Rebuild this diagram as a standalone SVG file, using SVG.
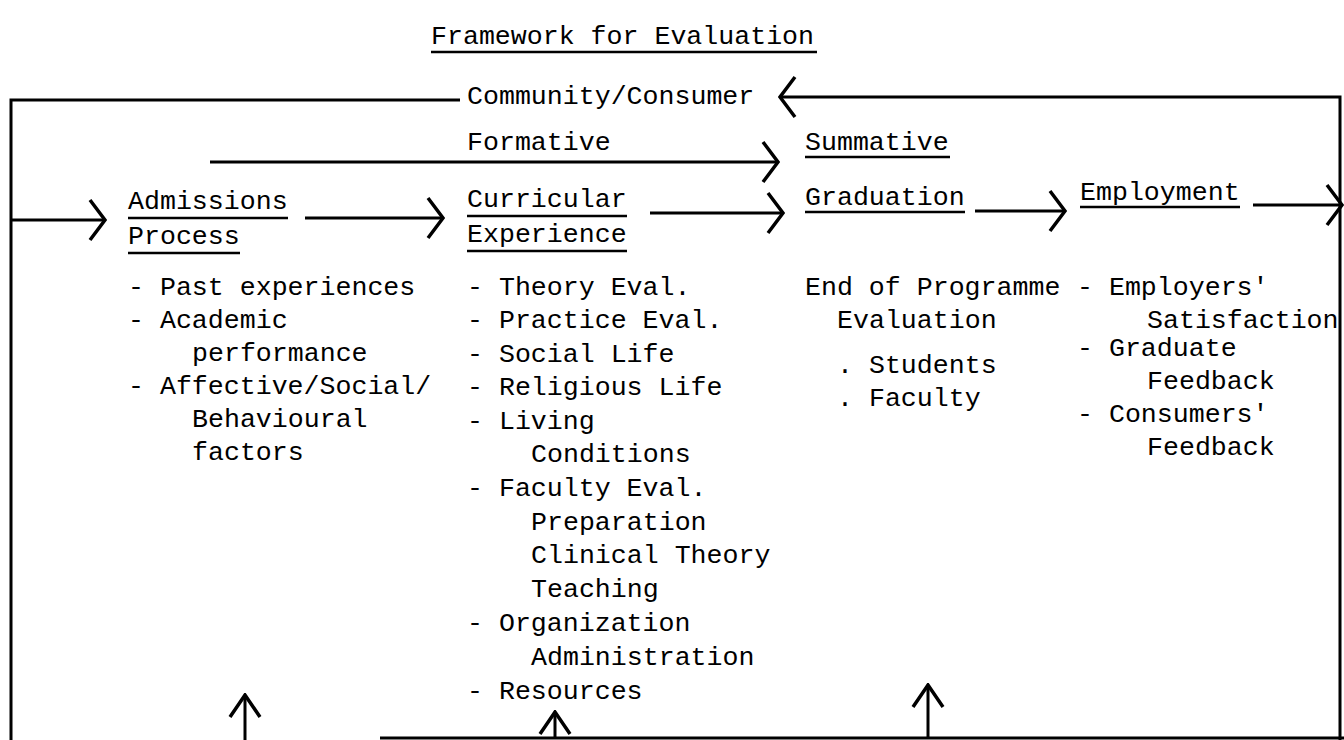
<svg xmlns="http://www.w3.org/2000/svg" width="1344" height="740" viewBox="0 0 1344 740">
<style>
text{font-family:"Liberation Mono","DejaVu Sans Mono",monospace;font-size:26.6px;fill:#000}
.ln{stroke:#000;stroke-width:3;fill:none}
.ul{stroke:#000;stroke-width:2.5;fill:none}
.arr{stroke:#000;stroke-width:3;fill:none;marker-end:url(#chev)}
.up{stroke:#000;stroke-width:3;fill:none;marker-end:url(#chevup)}
</style>
<defs>
<marker id="chev" markerUnits="userSpaceOnUse" viewBox="-18 -23 20 46" refX="0" refY="0" markerWidth="20" markerHeight="46" orient="auto">
<path d="M-15,-20 L0,0 L-15,20" stroke="#000" stroke-width="3.5" fill="none"/>
</marker>
<marker id="chevup" markerUnits="userSpaceOnUse" viewBox="-25 -18 27 36" refX="0" refY="0" markerWidth="27" markerHeight="36" orient="auto">
<path d="M-22,-15 L0,0 L-22,15" stroke="#000" stroke-width="3.5" fill="none"/>
</marker>
</defs>
<rect width="1344" height="740" fill="#fff"/>

<g id="title">
<text x="431" y="44">Framework for Evaluation</text>
<line class="ul" x1="431" y1="52" x2="817" y2="52"/>
</g>

<g id="community">
<text x="467" y="104">Community/Consumer</text>
</g>

<g id="formative">
<text x="467" y="150">Formative</text>
</g>

<g id="summative">
<text x="805" y="150">Summative</text>
<line class="ul" x1="805" y1="157" x2="950" y2="157"/>
</g>

<g id="admissions">
<text x="128" y="209">Admissions</text>
<line class="ul" x1="128" y1="218" x2="288" y2="218"/>
<text x="128" y="244">Process</text>
<line class="ul" x1="128" y1="253" x2="240" y2="253"/>
<text x="128" y="295">- Past experiences</text>
<text x="128" y="328">- Academic</text>
<text x="192" y="361">performance</text>
<text x="128" y="394">- Affective/Social/</text>
<text x="192" y="427">Behavioural</text>
<text x="192" y="460">factors</text>
</g>

<g id="curricular">
<text x="467" y="207">Curricular</text>
<line class="ul" x1="467" y1="216" x2="627" y2="216"/>
<text x="467" y="242">Experience</text>
<line class="ul" x1="467" y1="251" x2="627" y2="251"/>
<text x="467" y="295">- Theory Eval.</text>
<text x="467" y="328">- Practice Eval.</text>
<text x="467" y="362">- Social Life</text>
<text x="467" y="395">- Religious Life</text>
<text x="467" y="429">- Living</text>
<text x="531" y="462">Conditions</text>
<text x="467" y="496">- Faculty Eval.</text>
<text x="531" y="530">Preparation</text>
<text x="531" y="563">Clinical Theory</text>
<text x="531" y="597">Teaching</text>
<text x="467" y="631">- Organization</text>
<text x="531" y="665">Administration</text>
<text x="467" y="699">- Resources</text>
</g>

<g id="graduation">
<text x="805" y="205">Graduation</text>
<line class="ul" x1="805" y1="212" x2="965" y2="212"/>
<text x="805" y="295">End of Programme</text>
<text x="837" y="328">Evaluation</text>
<text x="837" y="373">. Students</text>
<text x="837" y="406">. Faculty</text>
</g>

<g id="employment">
<text x="1080" y="200">Employment</text>
<line class="ul" x1="1080" y1="207" x2="1240" y2="207"/>
<text x="1077" y="295">- Employers'</text>
<text x="1147" y="328">Satisfaction</text>
<text x="1077" y="356">- Graduate</text>
<text x="1147" y="389">Feedback</text>
<text x="1077" y="422">- Consumers'</text>
<text x="1147" y="455">Feedback</text>
</g>

<g id="connectors">
<polyline class="ln" points="11,740 11,100 460,100"/>
<polyline class="arr" points="1340,740 1340,97 780,97"/>
<line class="ln" x1="380" y1="738" x2="1344" y2="738"/>
<line class="arr" x1="210" y1="162" x2="778" y2="162"/>
<line class="arr" x1="11" y1="220" x2="105" y2="220"/>
<line class="arr" x1="305" y1="218" x2="443" y2="218"/>
<line class="arr" x1="650" y1="213" x2="783" y2="213"/>
<line class="arr" x1="975" y1="211" x2="1065" y2="211"/>
<line class="arr" x1="1253" y1="205" x2="1342" y2="205"/>
<line class="up" x1="245" y1="740" x2="245" y2="695"/>
<line class="up" x1="555" y1="738" x2="555" y2="712"/>
<line class="up" x1="928" y1="738" x2="928" y2="685"/>
</g>
</svg>
